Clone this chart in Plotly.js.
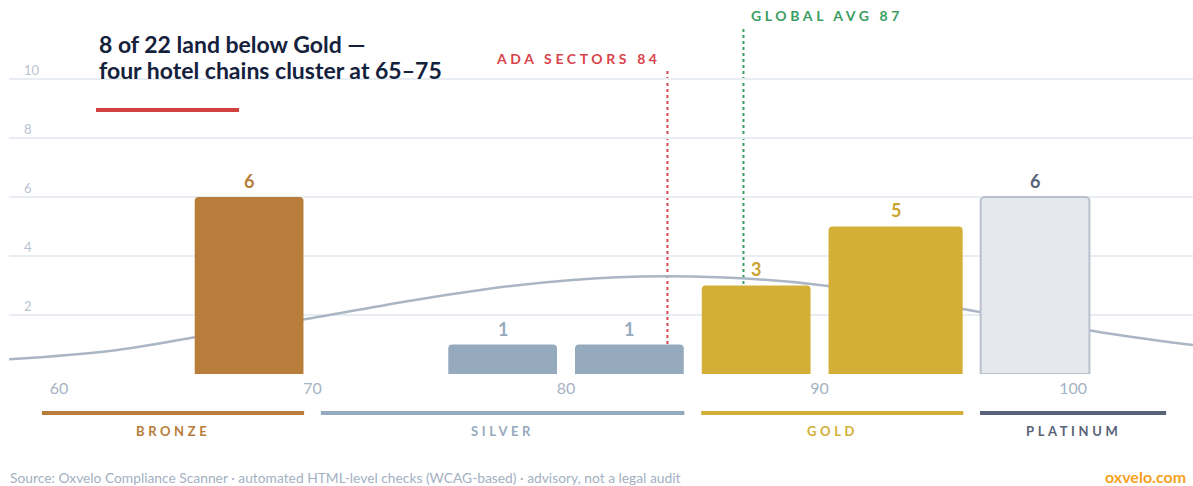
<!DOCTYPE html>
<html>
<head>
<meta charset="utf-8">
<script src="https://cdn.plot.ly/plotly-3.0.1.min.js"></script>
<style>
  html, body { margin: 0; padding: 0; background: #ffffff; }
  #chart { width: 1193px; height: 486px; }
  text[data-unformatted="ADA SECTORS 84"],
  text[data-unformatted="GLOBAL AVG 87"] { letter-spacing: 3.6px; }
  text[data-unformatted="BRONZE"],
  text[data-unformatted="SILVER"],
  text[data-unformatted="GOLD"],
  text[data-unformatted="PLATINUM"] { letter-spacing: 3.6px; }
</style>
</head>
<body>
<div id="chart"></div>
<script>
// ---------- data ----------
const binStart = [65, 75, 80, 85, 90, 96];
const binEnd   = [70, 80, 85, 90, 96, 101];
const counts   = [6, 1, 1, 3, 5, 6];
const binTier  = ['BRONZE', 'SILVER', 'SILVER', 'GOLD', 'GOLD', 'PLATINUM'];

const tierNames = ['BRONZE', 'SILVER', 'GOLD', 'PLATINUM'];
const tierStart = [59, 70, 85, 96];
const tierEnd   = [70, 85, 96, 104];

// fitted distribution curve
const curveX = [58, 62, 66, 70, 74, 78, 82, 86, 90, 94, 98, 102, 105];
const curveY = [0.5, 0.78, 1.34, 1.9, 2.5, 3.0, 3.28, 3.28, 3.02, 2.45, 1.85, 1.3, 0.95];

const refNames  = ['ADA SECTORS 84', 'GLOBAL AVG 87'];
const refValues = [84, 87];

const xTicks = [60, 70, 80, 90, 100];
const yTicks = [2, 4, 6, 8, 10];

const titleLines = ['8 of 22 land below Gold —', 'four hotel chains cluster at 65–75'];
const sourceText = 'Source: Oxvelo Compliance Scanner · automated HTML-level checks (WCAG-based) · advisory, not a legal audit';
const brandText = 'oxvelo.com';

// ---------- styles ----------
const FONT = 'Lato, "Open Sans", sans-serif';
const tierFill  = {BRONZE: '#b87d3b', SILVER: '#96aabd', GOLD: '#d3af37', PLATINUM: '#e5e9ee'};
const tierLine  = {BRONZE: '#b87d3b', SILVER: '#96aabd', GOLD: '#d3af37', PLATINUM: '#586378'};
const tierLabel = {BRONZE: '#b87d3b', SILVER: '#96aabd', GOLD: '#d3af37', PLATINUM: '#586378'};
const countColor = {BRONZE: '#b87d3b', SILVER: '#96aabd', GOLD: '#c9a431', PLATINUM: '#586378'};
const refColors = ['#d9434b', '#3a9e63'];
const refTop    = [0.9325, 1.0675];   // paper fraction
const refAnchor = ['right', 'left'];
const refShift  = [-4, 6];
const refLabelY = [0.9693, 1.1012];
const barGap = 0.71;   // axis units between neighbouring bars
const tierInset = 0.33;

const centers = binStart.map((s, i) => (s + binEnd[i]) / 2);
const widths  = binStart.map((s, i) => (binEnd[i] - s) - barGap);

const traces = [
  {
    type: 'scatter', mode: 'lines', x: curveX, y: curveY,
    xaxis: 'x', yaxis: 'y',
    line: {color: '#abb6c4', width: 2.5, shape: 'spline', smoothing: 1},
    hoverinfo: 'skip'
  },
  {
    type: 'bar', x: centers, y: counts, width: widths,
    xaxis: 'x', yaxis: 'y2',
    marker: {
      color: binTier.map(t => tierFill[t]),
      line: {color: binTier.map(t => t === 'PLATINUM' ? '#b9c1ce' : tierFill[t]),
             width: binTier.map(t => t === 'PLATINUM' ? 2 : 0)},
      cornerradius: 4
    },
    hoverinfo: 'skip'
  }
];

const annotations = [];
// y tick labels (drawn above each gridline, inside the plot)
yTicks.forEach(v => annotations.push({
  x: 0.011, y: v, xref: 'paper', yref: 'y', text: String(v),
  showarrow: false, xanchor: 'left', yanchor: 'middle', yshift: 9,
  font: {family: FONT, size: 13, color: '#b9c3d1'}
}));
// count labels
centers.forEach((c, i) => annotations.push({
  x: c, y: counts[i], xref: 'x', yref: 'y2', text: String(counts[i]),
  showarrow: false, xanchor: 'center', yanchor: 'middle', yshift: 16,
  font: {family: FONT, size: 18, color: countColor[binTier[i]], weight: 700}
}));
// reference labels
refNames.forEach((n, i) => annotations.push({
  x: refValues[i], y: refLabelY[i], xref: 'x', yref: 'paper', text: n,
  showarrow: false, xanchor: refAnchor[i], yanchor: 'middle', xshift: refShift[i],
  font: {family: FONT, size: 14, color: refColors[i], weight: 700}
}));
// tier labels
tierNames.forEach((n, i) => annotations.push({
  x: (tierStart[i] + tierEnd[i]) / 2, y: -0.1748, xref: 'x', yref: 'paper', text: n,
  showarrow: false, xanchor: 'center', yanchor: 'middle',
  font: {family: FONT, size: 13, color: tierLabel[n], weight: 700}
}));
// title
const titleY = [1.0123, 0.9325];
titleLines.forEach((t, i) => annotations.push({
  x: 0.0743, y: titleY[i], xref: 'paper', yref: 'paper', text: t,
  showarrow: false, xanchor: 'left', yanchor: 'middle', align: 'left',
  font: {family: FONT, size: 23, color: '#14213d', weight: 700}
}));
// footer
annotations.push({
  x: -0.0008, y: -0.319, xref: 'paper', yref: 'paper', text: sourceText,
  showarrow: false, xanchor: 'left', yanchor: 'middle',
  font: {family: FONT, size: 13.8, color: '#a3b0c2'}
});
annotations.push({
  x: 1, y: -0.3129, xref: 'paper', yref: 'paper', text: brandText,
  showarrow: false, xanchor: 'right', yanchor: 'middle', xshift: -6, borderpad: 0,
  font: {family: FONT, size: 16, color: '#f5a11c', weight: 700}
});

const shapes = [];
refValues.forEach((v, i) => shapes.push({
  type: 'line', xref: 'x', yref: 'paper', x0: v, x1: v, y0: 0, y1: refTop[i],
  layer: 'below', line: {color: refColors[i], width: 2, dash: 'dot'}
}));
tierNames.forEach((n, i) => shapes.push({
  type: 'line', xref: 'x', yref: 'paper',
  x0: tierStart[i] + tierInset, x1: tierEnd[i] - tierInset, y0: -0.1196, y1: -0.1196,
  line: {color: tierLine[n], width: 4}
}));
shapes.push({
  type: 'line', xref: 'paper', yref: 'paper', x0: 0.0735, x1: 0.1943, y0: 0.8098, y1: 0.8098,
  line: {color: '#d0413f', width: 4}
});

const layout = {
  width: 1193, height: 486,
  margin: {l: 9, r: 0, t: 48, b: 112, pad: 0},
  paper_bgcolor: '#ffffff', plot_bgcolor: '#ffffff',
  showlegend: false,
  font: {family: FONT},
  xaxis: {
    range: [58.03, 104.73], tickvals: xTicks, ticktext: xTicks.map(String),
    showgrid: false, zeroline: false, showline: false, ticks: '',
    ticklabelstandoff: 3,
    tickfont: {family: FONT, size: 16, color: '#a6b3c4'}, fixedrange: true
  },
  yaxis: {
    range: [0, 11.05], tickvals: yTicks,
    showgrid: true, gridcolor: '#e8edf3', gridwidth: 1.5,
    zeroline: false, showline: false, ticks: '', showticklabels: false,
    fixedrange: true
  },
  yaxis2: {
    range: [0, 11.05], overlaying: 'y', visible: false, showgrid: false, zeroline: false, fixedrange: true
  },
  annotations: annotations,
  shapes: shapes
};

Plotly.newPlot('chart', traces, layout, {displayModeBar: false, staticPlot: true});
</script>
</body>
</html>
